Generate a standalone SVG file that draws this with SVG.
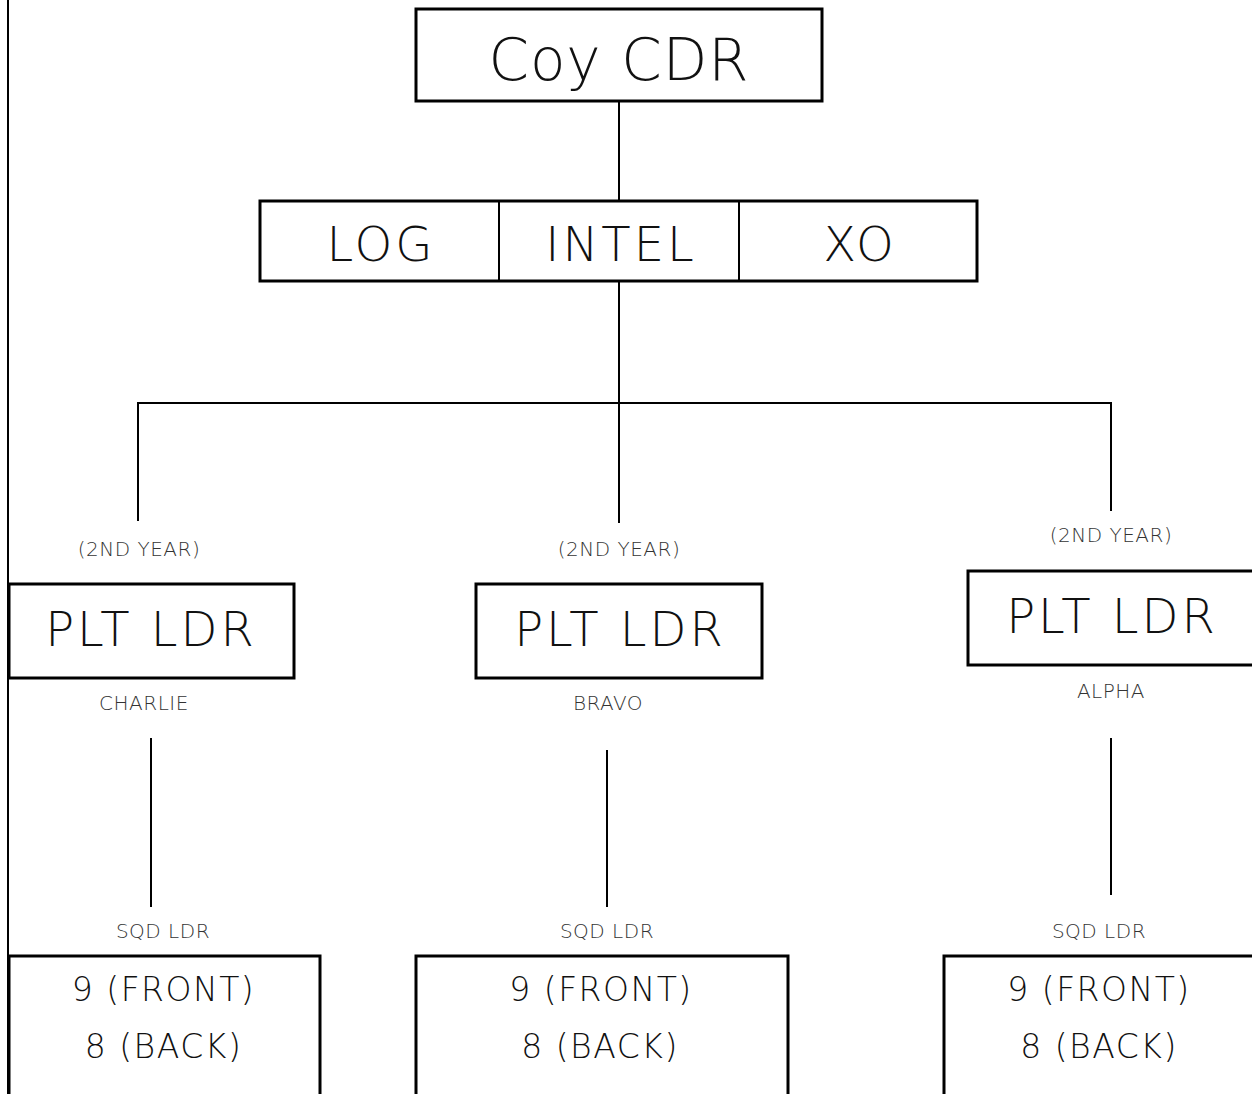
<svg xmlns="http://www.w3.org/2000/svg" width="1252" height="1094" viewBox="0 0 1252 1094">
  <style>
    .box { fill: #fff; stroke: #000; stroke-width: 3; }
    .wire { fill: none; stroke: #000; stroke-width: 2; }
    .big { font-family: "DejaVu Sans", Lato, "Liberation Sans", sans-serif; font-weight: 200; fill: #111; text-anchor: middle; }
    .title { font-size: 58px; letter-spacing: 1px; }
    .label { font-size: 48px; letter-spacing: 3px; }
    .count { font-size: 33px; letter-spacing: 1.5px; }
    .small { font-family: "DejaVu Sans", Lato, "Liberation Sans", sans-serif; font-weight: 200; font-size: 20px; letter-spacing: 0.5px; fill: #333; text-anchor: middle; }
  </style>
  <rect width="1252" height="1094" fill="#fff"/>

  <!-- connectors -->
  <g id="connectors">
    <line class="wire" x1="8" y1="0" x2="8" y2="1094"/>
    <line class="wire" x1="619" y1="101" x2="619" y2="201"/>
    <line class="wire" x1="619" y1="281" x2="619" y2="523"/>
    <polyline class="wire" points="138,521 138,403 1111,403 1111,511"/>
    <line class="wire" x1="151" y1="738" x2="151" y2="907"/>
    <line class="wire" x1="607" y1="750" x2="607" y2="907"/>
    <line class="wire" x1="1111" y1="738" x2="1111" y2="895"/>
  </g>

  <g id="coy-cdr">
    <rect class="box" x="416" y="9" width="406" height="92"/>
    <text class="big title" x="619" y="80">Coy CDR</text>
  </g>

  <g id="staff">
    <rect class="box" x="260" y="201" width="717" height="80"/>
    <line class="wire" x1="499" y1="201" x2="499" y2="281" stroke-width="3"/>
    <line class="wire" x1="739" y1="201" x2="739" y2="281" stroke-width="3"/>
    <text class="big label" x="381" y="261">LOG</text>
    <text class="big label" x="621" y="261">INTEL</text>
    <text class="big label" x="860" y="261">XO</text>
  </g>

  <g id="plt-charlie">
    <text class="small" x="139" y="556">(2ND YEAR)</text>
    <rect class="box" x="9" y="584" width="285" height="94"/>
    <text class="big label" x="151" y="646">PLT LDR</text>
    <text class="small" x="144" y="710">CHARLIE</text>
  </g>

  <g id="plt-bravo">
    <text class="small" x="619" y="556">(2ND YEAR)</text>
    <rect class="box" x="476" y="584" width="286" height="94"/>
    <text class="big label" x="620" y="646">PLT LDR</text>
    <text class="small" x="608" y="710">BRAVO</text>
  </g>

  <g id="plt-alpha">
    <text class="small" x="1111" y="542">(2ND YEAR)</text>
    <rect class="box" x="968" y="571" width="290" height="94"/>
    <text class="big label" x="1112" y="633">PLT LDR</text>
    <text class="small" x="1111" y="698">ALPHA</text>
  </g>

  <g id="sqd-charlie">
    <text class="small" x="163" y="938">SQD LDR</text>
    <rect class="box" x="9" y="956" width="311" height="150"/>
    <text class="big count" x="163.5" y="1001">9 (FRONT)</text>
    <text class="big count" x="163.5" y="1058">8 (BACK)</text>
  </g>

  <g id="sqd-bravo">
    <text class="small" x="607" y="938">SQD LDR</text>
    <rect class="box" x="416" y="956" width="372" height="150"/>
    <text class="big count" x="601" y="1001">9 (FRONT)</text>
    <text class="big count" x="600" y="1058">8 (BACK)</text>
  </g>

  <g id="sqd-alpha">
    <text class="small" x="1099" y="938">SQD LDR</text>
    <rect class="box" x="944" y="956" width="320" height="150"/>
    <text class="big count" x="1099" y="1001">9 (FRONT)</text>
    <text class="big count" x="1099" y="1058">8 (BACK)</text>
  </g>
</svg>
